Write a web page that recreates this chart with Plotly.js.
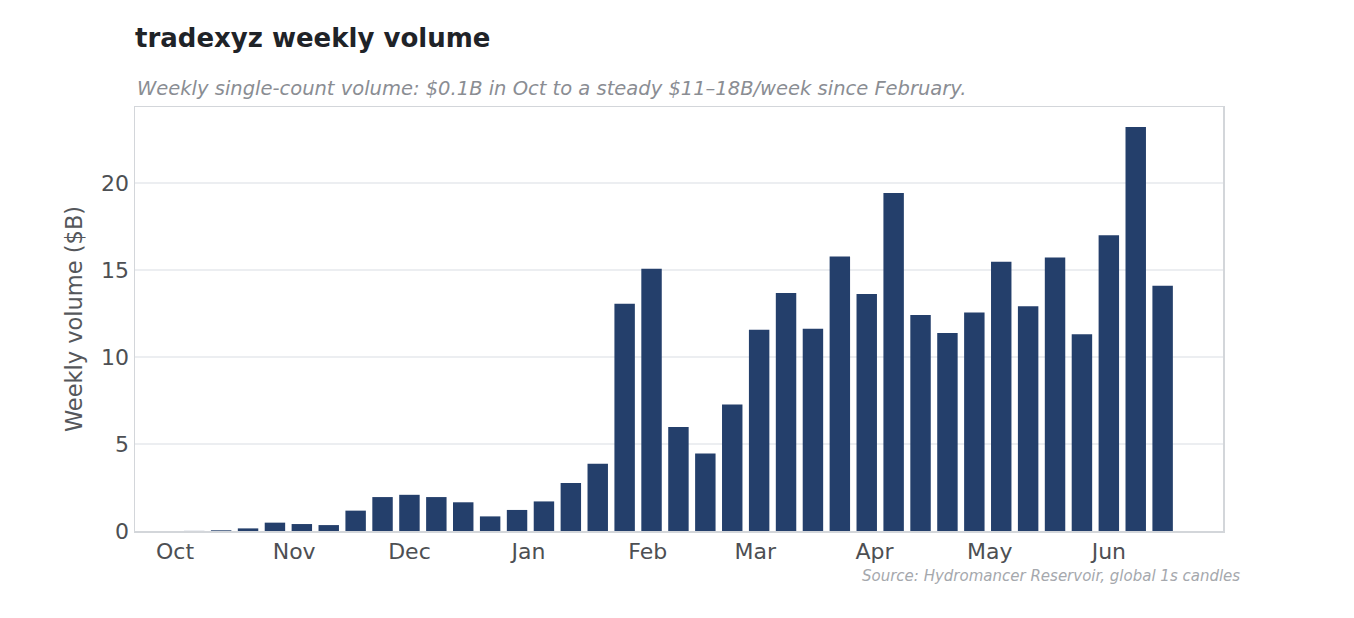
<!DOCTYPE html>
<html lang="en">
  <head>
    <meta charset="UTF-8" />
    <title>tradexyz weekly volume</title>
    <script src="https://cdn.plot.ly/plotly-3.0.1.min.js"></script>
    <style>
      html,
      body {
        margin: 0;
        padding: 0;
        background: #ffffff;
      }
      #chart {
        width: 1354px;
        height: 618px;
      }
    </style>
  </head>
  <body>
    <div id="chart"></div>
    <script>
      // week start dates (Mondays)
      const weeks = [
        "2025-10-06", "2025-10-13", "2025-10-20", "2025-10-27",
        "2025-11-03", "2025-11-10", "2025-11-17", "2025-11-24",
        "2025-12-01", "2025-12-08", "2025-12-15", "2025-12-22", "2025-12-29",
        "2026-01-05", "2026-01-12", "2026-01-19", "2026-01-26",
        "2026-02-02", "2026-02-09", "2026-02-16", "2026-02-23",
        "2026-03-02", "2026-03-09", "2026-03-16", "2026-03-23", "2026-03-30",
        "2026-04-06", "2026-04-13", "2026-04-20", "2026-04-27",
        "2026-05-04", "2026-05-11", "2026-05-18", "2026-05-25",
        "2026-06-01", "2026-06-08", "2026-06-15",
      ];
      // weekly volume, $B
      const volume = [
        0.005, 0.04, 0.15, 0.48,
        0.4, 0.34, 1.17, 1.95,
        2.08, 1.95, 1.65, 0.84, 1.21,
        1.7, 2.76, 3.87, 13.06,
        15.08, 5.98, 4.45, 7.27,
        11.56, 13.68, 11.62, 15.78, 13.62,
        19.42, 12.41, 11.38, 12.56,
        15.47, 12.92, 15.72, 11.31,
        17.0, 23.22, 14.1,
      ];

      const font = "DejaVu Sans, sans-serif";

      const data = [
        {
          type: "bar",
          x: weeks,
          y: volume,
          marker: { color: "#243f6b" },
          hoverinfo: "x+y",
        },
      ];

      const layout = {
        width: 1354,
        height: 618,
        margin: { l: 135, r: 131, t: 107, b: 87 },
        paper_bgcolor: "#ffffff",
        plot_bgcolor: "#ffffff",
        font: { family: font, color: "#4d4f53" },
        showlegend: false,
        bargap: 0.24,
        title: {
          text: "<b>tradexyz weekly volume</b>",
          font: { family: font, size: 26, color: "#1f2328" },
          xref: "container",
          yref: "container",
          x: 135 / 1354,
          xanchor: "left",
          y: 1 - 38 / 618,
          yanchor: "middle",
        },
        xaxis: {
          type: "date",
          range: ["2025-09-20 14:00", "2026-06-30 17:00"],
          dtick: "M1",
          tick0: "2025-10-01",
          tickformat: "%b",
          ticks: "",
          showgrid: false,
          showline: true,
          mirror: true,
          linecolor: "#d3d6da",
          linewidth: 1.5,
          tickfont: { family: font, size: 22, color: "#4d4f53" },
          zeroline: false,
        },
        yaxis: {
          range: [0, 24.37],
          tickvals: [0, 5, 10, 15, 20],
          ticks: "",
          showgrid: true,
          gridcolor: "#eceef1",
          gridwidth: 1.5,
          showline: true,
          mirror: true,
          linecolor: "#d3d6da",
          linewidth: 1.5,
          zeroline: false,
          tickfont: { family: font, size: 22, color: "#4d4f53" },
          title: {
            text: "Weekly volume ($B)",
            font: { family: font, size: 22.5, color: "#55575b" },
            standoff: 12,
          },
        },
        annotations: [
          {
            text: "<i>Weekly single-count volume: $0.1B in Oct to a steady $11–18B/week since February.</i>",
            xref: "paper",
            yref: "paper",
            x: 0,
            xanchor: "left",
            y: 1 + 19 / 424,
            yanchor: "middle",
            showarrow: false,
            font: { family: font, size: 19.5, color: "#8a8d93" },
          },
          {
            text: "<i>Source: Hydromancer Reservoir, global 1s candles</i>",
            xref: "paper",
            yref: "paper",
            x: (1242 - 135) / 1088,
            xanchor: "right",
            y: -45 / 424,
            yanchor: "middle",
            showarrow: false,
            font: { family: font, size: 15, color: "#a5a8ad" },
          },
        ],
      };

      Plotly.newPlot("chart", data, layout, { displayModeBar: false, staticPlot: true });
    </script>
  </body>
</html>
